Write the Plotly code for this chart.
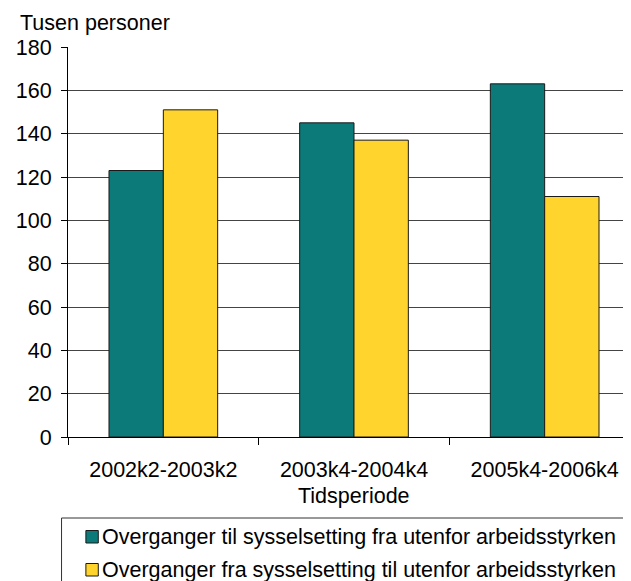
import plotly.graph_objects as go

categories = ["2002k2-2003k2", "2003k4-2004k4", "2005k4-2006k4"]
til_sysselsetting = [123, 145, 163]
fra_sysselsetting = [151, 137, 111]
series_names = [
    "Overganger til sysselsetting fra utenfor arbeidsstyrken",
    "Overganger fra sysselsetting til utenfor arbeidsstyrken",
]
series_colors = ["#0B7A78", "#FFD42C"]
y_ticks = [0, 20, 40, 60, 80, 100, 120, 140, 160, 180]

# figure coordinates (the page adds an 8px body margin)
W, H = 640, 600
ML, MR, MT, MB = 56, 8, 39, 171
PW = W - ML - MR
PH = H - MT - MB
FONT = "Liberation Sans, Arial, sans-serif"
FS = 21.5


def px_x(px):
    return (px - ML) / PW


def px_y(py):
    return (H - MB - py) / PH


fig = go.Figure()
for name, vals, col in zip(series_names, [til_sysselsetting, fra_sysselsetting], series_colors):
    fig.add_trace(go.Bar(
        x=categories, y=vals, name=name,
        marker=dict(color=col, line=dict(color="#1a1a1a", width=1)),
        showlegend=False,
    ))

fig.update_layout(
    width=W, height=H,
    margin=dict(l=ML, r=MR, t=MT, b=MB, pad=0),
    paper_bgcolor="white", plot_bgcolor="white",
    font=dict(family=FONT, size=FS, color="black"),
    barmode="group", bargap=0.43, bargroupgap=0,
    xaxis=dict(
        type="category", range=[-0.5, 2.5],
        showline=True, linecolor="black", linewidth=1,
        ticks="outside", ticklen=7, tickcolor="black", tickson="boundaries",
        showgrid=False, ticklabelstandoff=13,
        tickfont=dict(size=FS),
    ),
    yaxis=dict(
        range=[0, 180], tickvals=y_ticks,
        showline=True, linecolor="black", linewidth=1,
        ticks="outside", ticklen=6, tickcolor="black",
        showgrid=True, gridcolor="#444444", gridwidth=1,
        zeroline=False, ticklabelstandoff=5,
        tickfont=dict(size=FS),
    ),
)

annotations = [
    dict(text="Tusen personer", xref="paper", yref="paper", x=px_x(6), y=px_y(15),
         xanchor="left", yanchor="middle", showarrow=False, font=dict(size=FS)),
    dict(text="Tidsperiode", xref="x", yref="paper", x=1, y=px_y(488),
         xanchor="center", yanchor="middle", showarrow=False, font=dict(size=FS)),
]

shapes = [
    dict(type="rect", xref="paper", yref="paper",
         x0=px_x(49.5), x1=px_x(W + 5), y0=px_y(510), y1=px_y(H + 5),
         line=dict(color="#333333", width=1), fillcolor="rgba(0,0,0,0)", layer="above"),
]

row_y = [529, 562]
for name, col, ry in zip(series_names, series_colors, row_y):
    shapes.append(dict(type="rect", xref="paper", yref="paper",
                       x0=px_x(74), x1=px_x(86.5), y0=px_y(ry - 6.5), y1=px_y(ry + 6),
                       line=dict(color="#1a1a1a", width=1), fillcolor=col))
    annotations.append(dict(text=name, xref="paper", yref="paper", x=px_x(88), y=px_y(ry),
                            xanchor="left", yanchor="middle", showarrow=False,
                            font=dict(size=FS)))

fig.update_layout(annotations=annotations, shapes=shapes)
fig.write_html("out.html")
